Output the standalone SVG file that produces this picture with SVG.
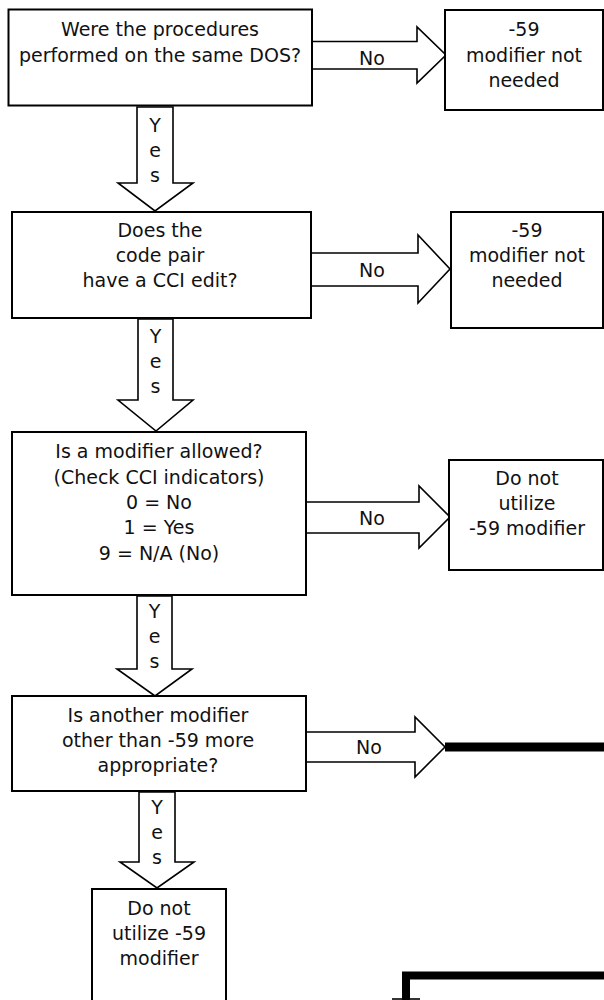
<svg xmlns="http://www.w3.org/2000/svg" width="604" height="1000" viewBox="0 0 604 1000">
<style>
  .box { fill: #ffffff; stroke: #000000; stroke-width: 2; }
  .arrow { fill: #ffffff; stroke: #000000; stroke-width: 1.6; stroke-linejoin: miter; }
  .t { font-family: "DejaVu Sans", Verdana, sans-serif; font-size: 19px; fill: #111111; text-anchor: middle; }
  .thick { fill: none; stroke: #000000; stroke-linejoin: miter; stroke-linecap: butt; }
</style>
<rect x="0" y="0" width="604" height="1000" fill="#ffffff"/>

<g id="connectors">
  <polygon class="arrow" points="137,107 173,107 173,183 193,183 155,211 118,183 137,183"/>
  <text class="t" x="155" y="132">Y</text>
  <text class="t" x="155" y="157">e</text>
  <text class="t" x="155" y="182">s</text>

  <polygon class="arrow" points="312,41.5 417,41.5 417,27 446,55 417,83 417,69 312,69"/>
  <text class="t" x="372" y="65">No</text>

  <polygon class="arrow" points="138,319 173,319 173,400 193,400 156,431 118,400 138,400"/>
  <text class="t" x="155.5" y="343">Y</text>
  <text class="t" x="155.5" y="368">e</text>
  <text class="t" x="155.5" y="393">s</text>

  <polygon class="arrow" points="311,253 418,253 418,235 450,269 418,303 418,286 311,286"/>
  <text class="t" x="372" y="277">No</text>

  <polygon class="arrow" points="137,596 172,596 172,669 192,669 155,696 117,669 137,669"/>
  <text class="t" x="154.5" y="618">Y</text>
  <text class="t" x="154.5" y="643">e</text>
  <text class="t" x="154.5" y="668">s</text>

  <polygon class="arrow" points="306,502 419,502 419,486 450,517 419,548 419,533 306,533"/>
  <text class="t" x="372" y="525">No</text>

  <polygon class="arrow" points="139,792 175,792 175,862 194,862 157,888 120,862 139,862"/>
  <text class="t" x="157" y="814">Y</text>
  <text class="t" x="157" y="839">e</text>
  <text class="t" x="157" y="864">s</text>

  <polygon class="arrow" points="306,732 415,732 415,717 445,747 415,777 415,762 306,762"/>
  <text class="t" x="369" y="754">No</text>
  <line class="thick" x1="445" y1="747" x2="604" y2="747" stroke-width="9"/>

  <path class="thick" d="M604,975.5 H406 V1000" stroke-width="8"/>
  <line x1="392" y1="999" x2="420" y2="999" stroke="#000000" stroke-width="1.6"/>
</g>

<g id="q1">
  <rect class="box" x="8.5" y="9.5" width="303.5" height="96"/>
  <text class="t" x="160" y="36">Were the procedures</text>
  <text class="t" x="160" y="62">performed on the same DOS?</text>
</g>

<g id="r1">
  <rect class="box" x="445" y="10" width="158" height="100"/>
  <text class="t" x="524" y="36">-59</text>
  <text class="t" x="524" y="62">modifier not</text>
  <text class="t" x="524" y="87">needed</text>
</g>

<g id="q2">
  <rect class="box" x="12" y="212" width="299" height="106"/>
  <text class="t" x="160" y="237">Does the</text>
  <text class="t" x="160" y="262">code pair</text>
  <text class="t" x="160" y="287">have a CCI edit?</text>
</g>

<g id="r2">
  <rect class="box" x="451" y="212" width="152" height="116"/>
  <text class="t" x="527" y="237">-59</text>
  <text class="t" x="527" y="262">modifier not</text>
  <text class="t" x="527" y="287">needed</text>
</g>

<g id="q3">
  <rect class="box" x="12" y="432" width="294" height="163"/>
  <text class="t" x="159" y="458">Is a modifier allowed?</text>
  <text class="t" x="159" y="483.5">(Check CCI indicators)</text>
  <text class="t" x="159" y="509">0 = No</text>
  <text class="t" x="159" y="534">1 = Yes</text>
  <text class="t" x="159" y="559.5">9 = N/A (No)</text>
</g>

<g id="r3">
  <rect class="box" x="449" y="460" width="154" height="110"/>
  <text class="t" x="527" y="485">Do not</text>
  <text class="t" x="527" y="510">utilize</text>
  <text class="t" x="527" y="535">-59 modifier</text>
</g>

<g id="q4">
  <rect class="box" x="12" y="696" width="294" height="95"/>
  <text class="t" x="158" y="722">Is another modifier</text>
  <text class="t" x="158" y="747">other than -59 more</text>
  <text class="t" x="158" y="772">appropriate?</text>
</g>

<g id="r4">
  <rect class="box" x="92" y="889" width="134" height="125"/>
  <text class="t" x="159" y="915">Do not</text>
  <text class="t" x="159" y="940">utilize -59</text>
  <text class="t" x="159" y="965">modifier</text>
</g>
</svg>
